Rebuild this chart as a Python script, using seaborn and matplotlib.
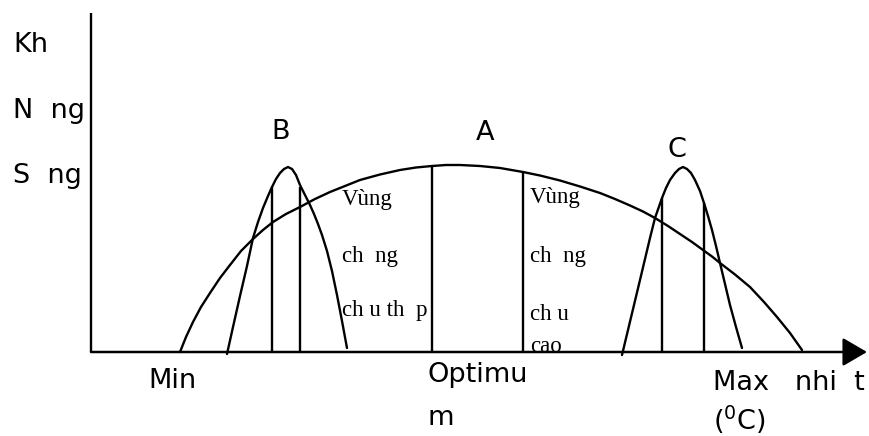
import seaborn as sns
import matplotlib.pyplot as plt
import pandas as pd

# curve points (x = position along the temperature axis,
# y = height above the axis)
a_x = [180, 186, 193, 201, 210, 220, 230, 241, 253, 263, 273, 286, 300, 315,
       330, 345, 360, 380, 400, 416, 432, 446, 460, 480, 500, 523, 540, 560,
       580, 600, 615, 630, 643, 655, 668, 680, 692, 703, 712, 720, 735, 750,
       764, 777, 790, 802]
a_y = [0, 15, 30, 45, 59, 74, 87, 101, 113, 122, 130, 138, 145, 153,
       160, 166, 172, 177.5, 182, 184.5, 186, 187, 187, 186, 184, 180, 176.5, 171.5,
       165.5, 159, 153, 146.5, 140.5, 134, 126, 118, 110, 102, 95.5, 89, 77.5, 65,
       50, 35, 19, 2]

b_x = [227, 233, 240, 247, 253, 258, 263, 268, 272, 276, 280, 284, 288, 292,
       296, 300, 305, 310, 314, 318, 322, 327, 332, 337, 342, 347]
b_y = [-2, 25, 56, 86, 114, 130, 144, 156, 165, 173, 179, 183, 185, 183,
       177, 167, 157, 147, 138, 128, 117, 101, 81, 57, 31, 4]

c_x = [622, 628, 634, 640, 645, 650, 655, 662, 666, 670, 675, 679, 683, 687,
       691, 695, 700, 704, 708, 712, 716, 720, 725, 730, 736, 742]
c_y = [-3, 22, 47, 72, 93, 114, 134, 154, 164, 172, 179, 183, 185, 183,
       179, 172, 161, 149, 136, 122, 106, 89, 68, 47, 25, 4]

# vertical lines under the curves
vline_x = [272, 300, 432, 523, 662, 704]
vline_top = [165, 165, 186, 180, 154, 149]

curves = pd.concat([
    pd.DataFrame({"t": a_x, "s": a_y, "curve": "A"}),
    pd.DataFrame({"t": b_x, "s": b_y, "curve": "B"}),
    pd.DataFrame({"t": c_x, "s": c_y, "curve": "C"}),
])

sns.set_theme(style="white")
plt.rcParams['font.family'] = ['DejaVu Sans']
plt.rcParams['text.color'] = 'black'

fig = plt.figure(figsize=(8.7, 4.36), dpi=100)
ax = fig.add_axes([0, 0, 1, 1])

sns.lineplot(data=curves, x="t", y="s", units="curve", estimator=None,
             color="black", lw=1.7, ax=ax, legend=False)
ax.vlines(vline_x, 0, vline_top, color="black", lw=1.7)

# axes with arrow
ax.vlines(91, 0, 339, color="black", lw=1.7)
ax.annotate("", xy=(867, 0), xytext=(91, 0),
            arrowprops=dict(arrowstyle="-|>,head_length=0.6,head_width=0.35",
                            color="black", lw=1.8, mutation_scale=25,
                            shrinkA=0, shrinkB=0))

ax.set_xlim(0, 870)
ax.set_ylim(-84, 352)
ax.axis("off")

fs = 19.5
ax.text(13, 300, "Kh", fontsize=fs, va="baseline")
ax.text(13, 234, "N  ng", fontsize=fs, va="baseline")
ax.text(13, 169, "S  ng", fontsize=fs, va="baseline")
ax.text(281, 213, "B", fontsize=fs, va="baseline", ha="center")
ax.text(485, 212, "A", fontsize=fs, va="baseline", ha="center")
ax.text(677, 195, "C", fontsize=fs, va="baseline", ha="center")

ax.text(148, -36, "Min", fontsize=fs, va="baseline")
ax.text(428, -30, "Optimu", fontsize=fs, va="baseline")
ax.text(428, -73, "m", fontsize=fs, va="baseline")
ax.text(713, -38, "Max   nhi  t", fontsize=fs, va="baseline")
ax.text(713, -78, "($^{0}$C)", fontsize=fs, va="baseline")

serif = dict(family="Liberation Serif", fontsize=16.5, va="baseline")
ax.text(342, 147, "Vùng", **serif)
ax.text(342, 90, "ch  ng", **serif)
ax.text(342, 36, "ch u th  p", **serif)
ax.text(530, 149, "Vùng", **serif)
ax.text(530, 90, "ch  ng", **serif)
ax.text(530, 32, "ch u", **serif)
ax.text(530, 0, "cao", **serif)

fig.savefig("out.png", dpi=100)
